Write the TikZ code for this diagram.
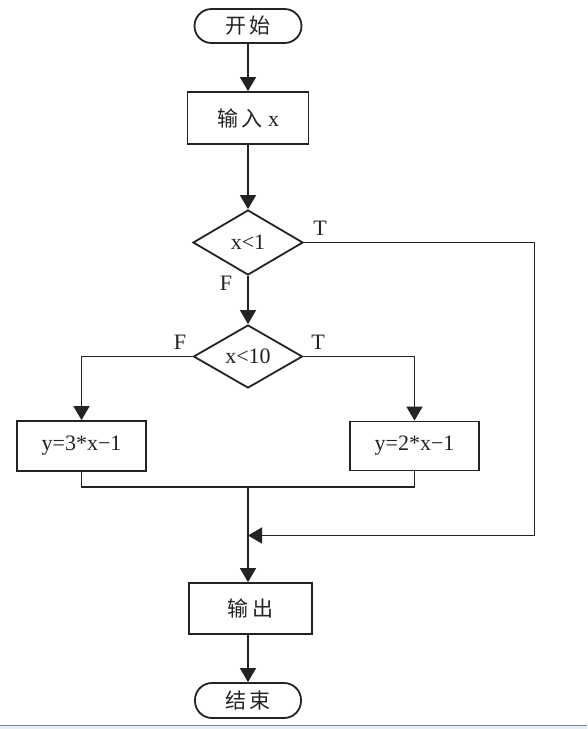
\documentclass[tikz,border=0pt]{standalone}
\usepackage{fontspec}
\setmainfont{Liberation Serif}
\newfontfamily\cjk{Noto Sans CJK SC}
\usetikzlibrary{shapes.geometric,arrows.meta}
\definecolor{ln}{RGB}{35,35,35}
\definecolor{bandline}{RGB}{120,140,165}
\definecolor{bandfill}{RGB}{232,238,245}
\newcommand{\zh}[1]{{\cjk\fontsize{21}{21}\selectfont #1}}
\tikzset{
  base/.style={draw=ln,line width=1.8pt,inner sep=0pt,text=ln,font=\fontsize{22}{22}\selectfont},
  term/.style={base,rectangle,rounded corners=17pt},
  proc/.style={base,rectangle},
  dec/.style={base,diamond},
  lbl/.style={inner sep=0pt,text=ln,font=\fontsize{22}{22}\selectfont},
  conn/.style={draw=ln,line width=1.6pt},
  arr/.style={conn,-{Triangle[width=16pt,length=14pt]}}
}
\begin{document}
\begin{tikzpicture}[x=1pt,y=-1pt]
\useasboundingbox (0,0) rectangle (587,729);
\fill[white] (0,0) rectangle (587,729);
\fill[bandfill] (0,726) rectangle (587,729);
\draw[bandline,line width=1.2pt] (0,725.5) -- (587,725.5);

\node[term,minimum width=107pt,minimum height=34pt] (start) at (248,26) {\zh{开\,始}};
\node[proc,minimum width=121pt,minimum height=52pt] (input) at (248,118) {\zh{输\,入}\ x};
\node[dec,minimum width=110pt,minimum height=65pt] (d1) at (248,242.5) {x<1};
\node[dec,minimum width=109pt,minimum height=63pt] (d2) at (248,356.5) {x<10};
\node[proc,minimum width=129pt,minimum height=50pt] (lbox) at (81.5,446) {y=3*x−1};
\node[proc,minimum width=129pt,minimum height=49pt] (rbox) at (414.5,446) {y=2*x−1};
\node[proc,minimum width=123pt,minimum height=51pt] (out) at (250.5,608.5) {\zh{输\,出}};
\node[term,minimum width=106pt,minimum height=35pt] (end) at (248,700.5) {\zh{结\,束}};

\node[lbl] (t1) at (320,228) {T};
\node[lbl] (f1) at (226,283) {F};
\node[lbl] (f2) at (180,342) {F};
\node[lbl] (t2) at (318,342) {T};

\coordinate (join) at (248,487);
\coordinate (merge) at (248,535.5);
\coordinate (rt) at (534.5,242.5);

\draw[arr] (start) -- (input);
\draw[arr] (input) -- (d1);
\draw[arr] (d1) -- (d2);
\draw[arr] (d2.west) -| (lbox.north);
\draw[arr] (d2.east) -| (rbox.north);
\draw[conn] (lbox.south) |- (join);
\draw[conn] (rbox.south) |- (join);
\draw[arr] (join) -- (out.north -| join);
\draw[arr] (d1.east) -- (rt) |- (merge);
\draw[arr] (out.south -| end.north) -- (end);
\end{tikzpicture}
\end{document}
